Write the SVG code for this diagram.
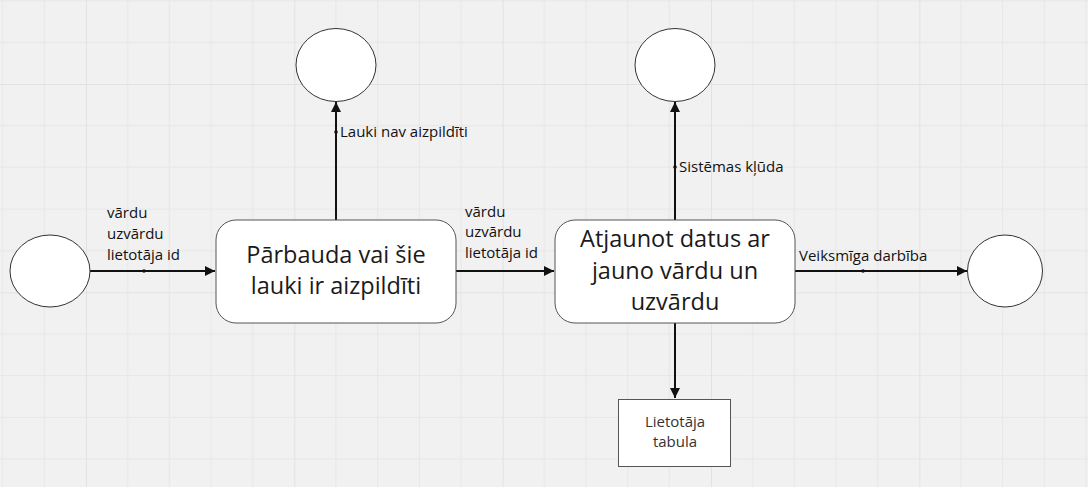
<svg xmlns="http://www.w3.org/2000/svg" width="1088" height="487" viewBox="0 0 1088 487">
<defs>
<pattern id="grid" patternUnits="userSpaceOnUse" x="86" y="84" width="208.33" height="208.33">
<rect width="208.33" height="208.33" fill="#f1f1f1"/>
<path d="M41.67 0V208.33M83.33 0V208.33M125 0V208.33M166.67 0V208.33M0 41.67H208.33M0 83.33H208.33M0 125H208.33M0 166.67H208.33" stroke="#e7e7e7" stroke-width="1" fill="none"/>
<path d="M0 0V208.33M0 0H208.33" stroke="#e2e2e2" stroke-width="2" fill="none"/>
</pattern>
<marker id="arr" viewBox="0 0 10 10" refX="10" refY="5" markerWidth="10" markerHeight="10" markerUnits="userSpaceOnUse" orient="auto">
<path d="M0 0L10 5L0 10z" fill="#111"/>
</marker>
</defs>
<style>
.term{fill:#fff;stroke:#333;stroke-width:1}
.proc{fill:#fff;stroke:#555;stroke-width:1}
.store{fill:#fff;stroke:#555;stroke-width:1}
.edge{stroke:#111;stroke-width:2;fill:none;marker-end:url(#arr)}
.dot{fill:#111}
.lbl{font-family:"Open Sans","Noto Sans",sans-serif;font-size:15px;fill:#111}
.big{font-family:"Open Sans","Noto Sans",sans-serif;font-size:23.5px;fill:#1a1a1a;text-anchor:middle}
.small{font-family:"Open Sans","Noto Sans",sans-serif;font-size:15px;fill:#333;text-anchor:middle}
</style>
<rect width="1088" height="487" fill="url(#grid)"/>
<g id="connectors">
<path class="edge" d="M90 271H215"/>
<circle class="dot" cx="144" cy="271" r="1.8"/>
<path class="edge" d="M456 271H554"/>
<path class="edge" d="M795 271H967"/>
<circle class="dot" cx="863" cy="271" r="1.8"/>
<path class="edge" d="M336 220V102"/>
<circle class="dot" cx="336" cy="132" r="1.8"/>
<path class="edge" d="M675 220V102"/>
<circle class="dot" cx="675" cy="167" r="1.8"/>
<path class="edge" d="M675 323V398"/>
<text class="lbl" x="107" y="218">vārdu</text>
<text class="lbl" x="107" y="239">uzvārdu</text>
<text class="lbl" x="107" y="260">lietotāja id</text>
<text class="lbl" x="465" y="217">vārdu</text>
<text class="lbl" x="465" y="237">uzvārdu</text>
<text class="lbl" x="465" y="258">lietotāja id</text>
<text class="lbl" x="799" y="261">Veiksmīga darbība</text>
<text class="lbl" x="340" y="137">Lauki nav aizpildīti</text>
<text class="lbl" x="679" y="172">Sistēmas kļūda</text>
</g>
<g id="start"><ellipse class="term" cx="50" cy="271" rx="40" ry="36"/></g>
<g id="check">
<rect class="proc" x="216" y="220" width="240" height="103" rx="20"/>
<text class="big" x="336" y="263">Pārbauda vai šie</text>
<text class="big" x="336" y="294">lauki ir aizpildīti</text>
</g>
<g id="update">
<rect class="proc" x="555" y="220" width="240" height="103" rx="20"/>
<text class="big" x="675" y="247">Atjaunot datus ar</text>
<text class="big" x="675" y="279">jauno vārdu un</text>
<text class="big" x="675" y="310">uzvārdu</text>
</g>
<g id="end-ok"><ellipse class="term" cx="1005" cy="271" rx="37.5" ry="36"/></g>
<g id="end-empty"><ellipse class="term" cx="336" cy="65" rx="40" ry="36.5"/></g>
<g id="end-error"><ellipse class="term" cx="675" cy="65" rx="40" ry="36.5"/></g>
<g id="table">
<rect class="store" x="618.5" y="399.5" width="112" height="67"/>
<text class="small" x="675" y="427">Lietotāja</text>
<text class="small" x="675" y="447">tabula</text>
</g>
</svg>
